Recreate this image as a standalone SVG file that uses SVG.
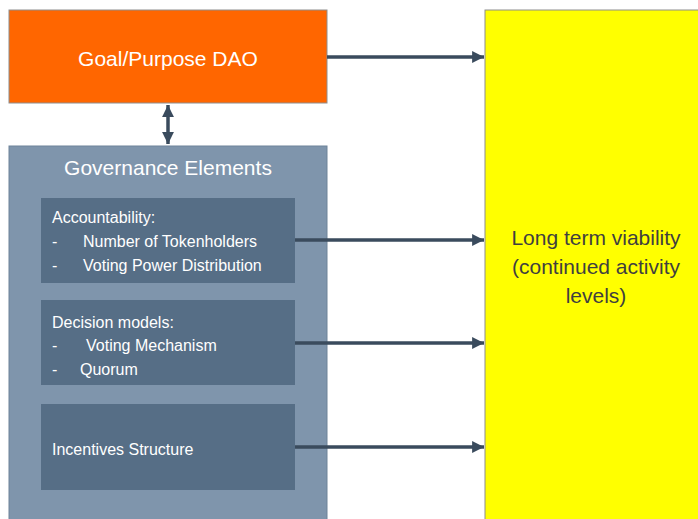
<svg xmlns="http://www.w3.org/2000/svg" width="698" height="519" viewBox="0 0 698 519">
<style>
.lbl{font-family:"Liberation Sans",Arial,sans-serif;fill:#ffffff}
.big{font-size:21px}
.sm{font-size:16px}
.dark{font-family:"Liberation Sans",Arial,sans-serif;fill:#3F3F3F;font-size:21px}
.inner{fill:#566E86}
.conn{stroke:#3A4B5D;stroke-width:3.5;fill:none}
</style>
<defs>
<marker id="ah" viewBox="0 0 10 10" refX="10" refY="5" markerWidth="3.4" markerHeight="3.4" orient="auto-start-reverse" markerUnits="strokeWidth">
<path d="M0,0 L10,5 L0,10 z" fill="#3A4B5D"/>
</marker>
</defs>
<rect width="698" height="519" fill="#ffffff"/>
<g id="goal">
<rect x="9" y="10" width="318" height="93" fill="#FF6600" stroke="#8E8E8E" stroke-width="1"/>
<text class="lbl big" x="168" y="66" text-anchor="middle">Goal/Purpose DAO</text>
</g>
<g id="governance">
<rect x="9" y="146" width="318" height="380" fill="#7F95AC" stroke="#6E8399" stroke-width="1"/>
<text class="lbl big" x="168" y="175" text-anchor="middle">Governance Elements</text>
</g>
<g id="accountability">
<rect class="inner" x="41" y="198" width="254" height="85"/>
<text class="lbl sm" x="52" y="223">Accountability:</text>
<text class="lbl sm" x="52" y="247">-</text>
<text class="lbl sm" x="83" y="247">Number of Tokenholders</text>
<text class="lbl sm" x="52" y="271">-</text>
<text class="lbl sm" x="83" y="271">Voting Power Distribution</text>
</g>
<g id="decision">
<rect class="inner" x="41" y="300" width="254" height="85"/>
<text class="lbl sm" x="52" y="328">Decision models:</text>
<text class="lbl sm" x="52" y="351">-</text>
<text class="lbl sm" x="86" y="351">Voting Mechanism</text>
<text class="lbl sm" x="52" y="375">-</text>
<text class="lbl sm" x="80" y="375">Quorum</text>
</g>
<g id="incentives">
<rect class="inner" x="41" y="404" width="254" height="86"/>
<text class="lbl sm" x="52" y="455">Incentives Structure</text>
</g>
<g id="viability">
<rect x="485" y="10" width="220" height="520" fill="#FFFF00" stroke="#8E8E8E" stroke-width="1"/>
<text class="dark" x="596" y="245" text-anchor="middle">Long term viability</text>
<text class="dark" x="596" y="274" text-anchor="middle">(continued activity</text>
<text class="dark" x="596" y="303" text-anchor="middle">levels)</text>
</g>
<g id="connectors">
<line class="conn" x1="168" y1="105" x2="168" y2="144" marker-start="url(#ah)" marker-end="url(#ah)"/>
<line class="conn" x1="327" y1="57" x2="484" y2="57" marker-end="url(#ah)"/>
<line class="conn" x1="295" y1="240" x2="484" y2="240" marker-end="url(#ah)"/>
<line class="conn" x1="295" y1="343" x2="484" y2="343" marker-end="url(#ah)"/>
<line class="conn" x1="295" y1="447" x2="484" y2="447" marker-end="url(#ah)"/>
</g>
</svg>
